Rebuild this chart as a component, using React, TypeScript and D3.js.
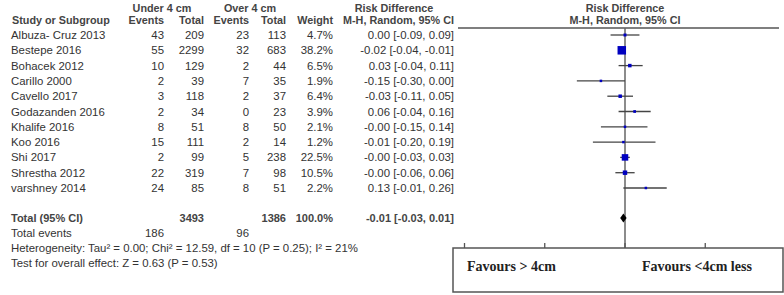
import React from "react";
import * as d3 from "d3";

const studies = ["Albuza- Cruz 2013", "Bestepe 2016", "Bohacek 2012", "Carillo 2000", "Cavello 2017", "Godazanden 2016", "Khalife  2016", "Koo 2016", "Shi 2017", "Shrestha 2012", "varshney 2014"];
const events1 = [43, 55, 10, 2, 3, 2, 8, 15, 2, 22, 24];
const total1 = [209, 2299, 129, 39, 118, 34, 51, 111, 99, 319, 85];
const events2 = [23, 32, 2, 7, 2, 0, 8, 2, 5, 7, 8];
const total2 = [113, 683, 44, 35, 37, 23, 50, 14, 238, 98, 51];
const weights = [4.7, 38.2, 6.5, 1.9, 6.4, 3.9, 2.1, 1.2, 22.5, 10.5, 2.2];
const rd = [0.0, -0.02, 0.03, -0.15, -0.03, 0.06, -0.0, -0.01, -0.0, -0.0, 0.13];
const lo = [-0.09, -0.04, -0.04, -0.3, -0.11, -0.04, -0.15, -0.2, -0.03, -0.06, -0.01];
const hi = [0.09, -0.01, 0.11, 0.0, 0.05, 0.16, 0.14, 0.19, 0.03, 0.06, 0.26];
const rdNegZero = [false, false, false, false, false, false, true, false, true, true, false];
const totalStats = { n1: 3493, n2: 1386, e1: 186, e2: 96, est: -0.01, lo: -0.03, hi: 0.01 };
const axisTicks = [-1, -0.5, 0, 0.5, 1];

const fmt = (v: number) => v.toFixed(2);
const fmtSigned = (v: number, neg: boolean) => (neg && v === 0 ? "-0.00" : fmt(v));

export default function App() {
  const W = 784, H = 295;
  const x = d3.scaleLinear().domain([-1, 1]).range([464.5, 785.5]);
  const y = d3.scaleLinear().domain([0, 1]).range([35, 50.3]);
  const size = d3.scaleSqrt().domain([0, 38.2]).range([0, 8.5]);
  const font = "'Liberation Sans', Arial, sans-serif";
  const txt = "#333";
  const axisY = 248;
  return (
    <svg width={W} height={H} style={{ position: "absolute", left: 0, top: 0, background: "#fff" }} fontFamily={font} fontSize={11.4}>
      <g fill={txt}>
        <g fontWeight="bold" fill="#444" fontSize={10.8}>
          <text x={162} y={12} textAnchor="middle">Under 4 cm</text>
          <text x={250} y={12} textAnchor="middle">Over 4 cm</text>
          <text x={394} y={12} textAnchor="middle">Risk Difference</text>
          <text x={625} y={12} textAnchor="middle">Risk Difference</text>
          <text x={12} y={24}>Study or Subgroup</text>
          <text x={164} y={24} textAnchor="end">Events</text>
          <text x={204} y={24} textAnchor="end">Total</text>
          <text x={249} y={24} textAnchor="end">Events</text>
          <text x={286} y={24} textAnchor="end">Total</text>
          <text x={333} y={24} textAnchor="end">Weight</text>
          <text x={454} y={24} textAnchor="end">M-H, Random, 95% CI</text>
          <text x={625} y={24} textAnchor="middle">M-H, Random, 95% CI</text>
        </g>
        {studies.map((s, i) => {
          const cy = y(i);
          const by = cy + 4;
          return (
            <g key={s}>
              <text x={11} y={by}>{s}</text>
              <text x={164} y={by} textAnchor="end">{events1[i]}</text>
              <text x={204} y={by} textAnchor="end">{total1[i]}</text>
              <text x={249} y={by} textAnchor="end">{events2[i]}</text>
              <text x={286} y={by} textAnchor="end">{total2[i]}</text>
              <text x={333} y={by} textAnchor="end">{weights[i].toFixed(1)}%</text>
              <text x={454} y={by} textAnchor="end">{`${fmtSigned(rd[i], rdNegZero[i])} [${fmt(lo[i])}, ${fmt(hi[i])}]`}</text>
            </g>
          );
        })}
        <g fontWeight="bold" fill="#444" fontSize={11}>
          <text x={11} y={222}>Total (95% CI)</text>
          <text x={204} y={222} textAnchor="end">{totalStats.n1}</text>
          <text x={286} y={222} textAnchor="end">{totalStats.n2}</text>
          <text x={333} y={222} textAnchor="end">100.0%</text>
          <text x={454} y={222} textAnchor="end">{`${fmt(totalStats.est)} [${fmt(totalStats.lo)}, ${fmt(totalStats.hi)}]`}</text>
        </g>
        <text x={11} y={237}>Total events</text>
        <text x={164} y={237} textAnchor="end">{totalStats.e1}</text>
        <text x={249} y={237} textAnchor="end">{totalStats.e2}</text>
        <text x={11} y={252}>Heterogeneity: Tau² = 0.00; Chi² = 12.59, df = 10 (P = 0.25); I² = 21%</text>
        <text x={11} y={267}>Test for overall effect: Z = 0.63 (P = 0.53)</text>
      </g>
      <line x1={458} x2={779} y1={28} y2={28} stroke="#555" strokeWidth={1.5} />
      <line x1={x(0)} x2={x(0)} y1={28} y2={axisY} stroke="#666" strokeWidth={1.5} />
      {studies.map((s, i) => {
        const cy = y(i);
        const sz = Math.max(2.5, size(weights[i]));
        return (
          <g key={s}>
            <line x1={x(lo[i])} x2={x(hi[i])} y1={cy} y2={cy} stroke="#444" strokeWidth={1.3} />
            <rect x={x(rd[i]) - sz / 2} y={cy - sz / 2} width={sz} height={sz} fill="#0000c0" />
          </g>
        );
      })}
      <path
        d={`M${x(totalStats.lo)},218 L${x(totalStats.est)},213.5 L${x(totalStats.hi)},218 L${x(totalStats.est)},222.5 Z`}
        fill="#000"
      />
      <rect x={453} y={axisY} width={330} height={44} fill="none" stroke="#555" strokeWidth={1.5} />
      {axisTicks.map((t) => (
        <line key={t} x1={x(t)} x2={x(t)} y1={axisY - 5} y2={axisY} stroke="#555" strokeWidth={1.3} />
      ))}
      <g fontFamily="'Liberation Serif', 'DejaVu Serif', serif" fontWeight="bold" fontSize={14} fill="#222">
        <text x={467} y={271}>Favours &gt; 4cm</text>
        <text x={642} y={271}>Favours &lt;4cm less</text>
      </g>
    </svg>
  );
}
